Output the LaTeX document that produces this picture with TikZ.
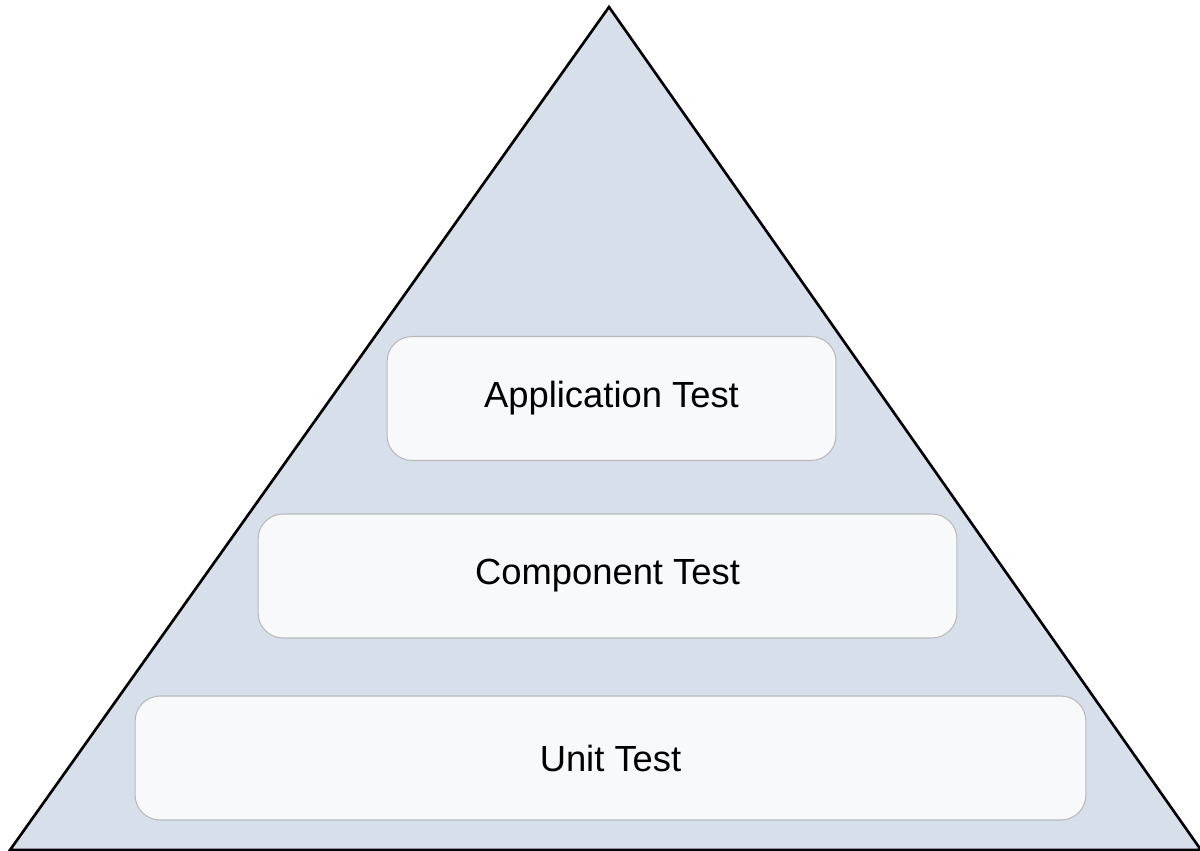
\documentclass[tikz,border=0pt]{standalone}
\usepackage{fontspec}
\setmainfont{Liberation Sans}
\usetikzlibrary{positioning}
\definecolor{pyramidfill}{RGB}{214,223,234}
\definecolor{levelfill}{RGB}{248,249,251}
\definecolor{levelline}{RGB}{185,185,185}

\begin{document}
\begin{tikzpicture}[
  x=0.02cm, y=-0.02cm,
  font=\fontsize{20.7}{24}\selectfont,
  level/.style={draw=levelline, line width=0.6pt, fill=levelfill, rounded corners=0.5cm, minimum height=2.48cm, align=center}
]
\useasboundingbox (0,0) rectangle (1200,851);
\coordinate (apex) at (609,7);
\coordinate (baseL) at (10,850);
\coordinate (baseR) at (1201,850);
\draw[fill=pyramidfill, line width=1.5pt, line join=miter] (baseL) -- (apex) -- (baseR) -- cycle;
\node[level, minimum width=8.98cm] (app) at (611.5,398.5) {Application Test};
\node[level, minimum width=13.98cm] (comp) at (607.5,576) {Component Test};
\node[level, minimum width=19.02cm] (unit) at (610.5,758) {Unit Test};
\end{tikzpicture}
\end{document}
